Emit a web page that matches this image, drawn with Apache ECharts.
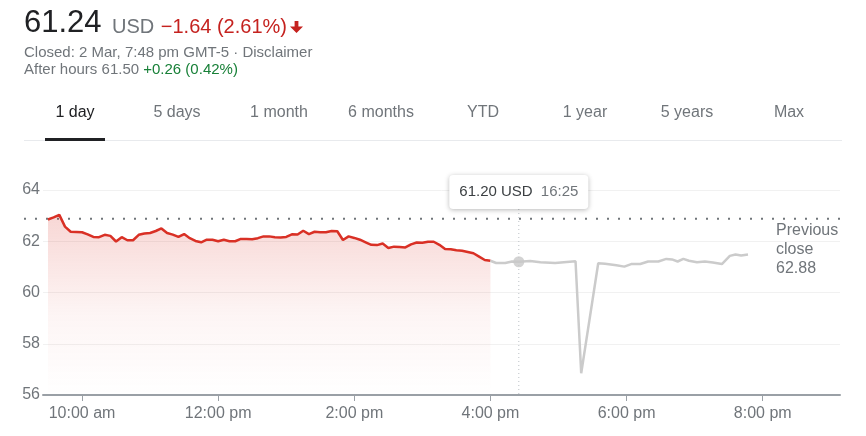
<!DOCTYPE html>
<html>
<head>
<meta charset="utf-8">
<script src="https://cdn.jsdelivr.net/npm/echarts@6/dist/echarts.min.js"></script>
<style>
  html, body { margin: 0; padding: 0; background: #fff; }
  body { width: 866px; height: 436px; overflow: hidden; position: relative;
         font-family: Arial, "Liberation Sans", sans-serif; }
  #chart { position: absolute; left: 0; top: 0; width: 866px; height: 436px; }
  .abs { position: absolute; white-space: nowrap; }
  .price { left: 24px; top: 6px; font-size: 31px; line-height: 31px; color: #202124; }
  .chgline { left: 112px; top: 16px; font-size: 20px; line-height: 20px; color: #70757a; }
  .down { color: #c5221f; margin-left: 1px; }
  .sub { left: 24px; font-size: 15px; line-height: 16px; color: #70757a; }
  .up { color: #188038; }
  .tab { top: 100px; height: 24px; line-height: 24px; font-size: 16px; color: #70757a;
         width: 102px; text-align: center; }
  .tab.sel { color: #202124; }
  .uline { left: 45px; top: 138px; width: 60px; height: 3px; background: #202124; }
  .sep { left: 24px; top: 140px; width: 818px; height: 1px; background: #e8eaed; }
</style>
</head>
<body>
<div id="chart"></div>

<div class="abs price">61.24</div>
<div class="abs chgline">USD <span class="down">−1.64 (2.61%)</span></div>
<svg class="abs" style="left:290px;top:21px" width="13" height="12" viewBox="0 0 13 12">
  <path fill="#c5221f" d="M4.6 0h3.8v5.6h4.6L6.5 12 0 5.6h4.6z"/>
</svg>
<div class="abs sub" style="top:44px">Closed: 2 Mar, 7:48 pm GMT-5 · Disclaimer</div>
<div class="abs sub" style="top:61px">After hours 61.50 <span class="up">+0.26 (0.42%)</span></div>

<div id="tabs"></div>
<div class="abs sep"></div>
<div class="abs uline"></div>

<script>
// ---------- data ----------
const tabLabels = ["1 day", "5 days", "1 month", "6 months", "YTD", "1 year", "5 years", "Max"];

const regularTimes = [
  "9:30","9:35","9:40","9:45","9:50","9:55",
  "10:00","10:05","10:10","10:15","10:20","10:25","10:30","10:35","10:40","10:45","10:50","10:55",
  "11:00","11:05","11:10","11:15","11:20","11:25","11:30","11:35","11:40","11:45","11:50","11:55",
  "12:00","12:05","12:10","12:15","12:20","12:25","12:30","12:35","12:40","12:45","12:50","12:55",
  "13:00","13:05","13:10","13:15","13:20","13:25","13:30","13:35","13:40","13:45","13:50","13:55",
  "14:00","14:05","14:10","14:15","14:20","14:25","14:30","14:35","14:40","14:45","14:50","14:55",
  "15:00","15:05","15:10","15:15","15:20","15:25","15:30","15:35","15:40","15:45","15:50","15:55",
  "16:00"
];
const regularPrices = [
  62.85, 62.93, 63.03, 62.57, 62.37, 62.36,
  62.35, 62.27, 62.17, 62.16, 62.25, 62.21, 61.99, 62.16, 62.04, 62.04, 62.25, 62.30,
  62.32, 62.40, 62.50, 62.32, 62.26, 62.17, 62.28, 62.12, 62.01, 61.96, 62.06, 62.06,
  62.00, 62.06, 62.00, 62.00, 62.09, 62.09, 62.08, 62.12, 62.19, 62.19, 62.16, 62.15,
  62.17, 62.27, 62.26, 62.41, 62.28, 62.37, 62.35, 62.35, 62.40, 62.39, 62.05, 62.19,
  62.13, 62.06, 61.96, 61.86, 61.85, 61.91, 61.74, 61.79, 61.78, 61.76, 61.88, 61.95,
  61.94, 61.98, 61.98, 61.86, 61.70, 61.69, 61.65, 61.63, 61.58, 61.53, 61.40, 61.27,
  61.24
];

const afterTimes = [
  "16:00","16:05","16:13","16:19","16:25","16:35","16:44","16:57","17:15","17:20",
  "17:35","17:41","17:51","17:58","18:04","18:12","18:19","18:28","18:35","18:40",
  "18:45","18:50","18:55","19:02","19:09","19:16","19:24","19:31","19:36","19:41","19:47"
];
const afterPrices = [
  61.24, 61.15, 61.15, 61.21, 61.20, 61.23, 61.18, 61.15, 61.22, 56.85,
  61.14, 61.12, 61.06, 61.01, 61.11, 61.11, 61.21, 61.21, 61.31, 61.29,
  61.21, 61.31, 61.24, 61.18, 61.21, 61.17, 61.11, 61.43, 61.48, 61.44, 61.48
];

const previousClose = 62.88;
const hoverTime = "16:25";
const hoverPrice = 61.20;

const xTickHours = [10, 12, 14, 16, 18, 20];
const xTickLabels = ["10:00 am", "12:00 pm", "2:00 pm", "4:00 pm", "6:00 pm", "8:00 pm"];
const yMin = 56, yMax = 64, yStep = 2;
const xMin = 9.427, xMax = 21.135;

// ---------- helpers ----------
function toHours(t) { const p = t.split(":"); return (+p[0]) + (+p[1]) / 60; }

// tabs
const tabsEl = document.getElementById("tabs");
tabLabels.forEach((lbl, i) => {
  const d = document.createElement("div");
  d.className = "abs tab" + (i === 0 ? " sel" : "");
  d.style.left = (24 + i * 102) + "px";
  d.textContent = lbl;
  tabsEl.appendChild(d);
});

// ---------- chart ----------
const chart = echarts.init(document.getElementById("chart"), null, { renderer: "canvas" });
const FONT = 'Arial, "Liberation Sans", sans-serif';

const option = {
  animation: false,
  grid: { left: 43, right: 26, top: 190, bottom: 41, containLabel: false },
  xAxis: {
    type: "value", min: xMin, max: xMax,
    splitLine: { show: false },
    axisLine: { show: true, onZero: false, lineStyle: { color: "#9aa0a6", width: 2 } },
    axisTick: { show: true, customValues: xTickHours, length: 6, lineStyle: { color: "#9aa0a6", width: 1 } },
    axisLabel: {
      show: true, customValues: xTickHours, margin: 11, fontSize: 16, color: "#70757a", fontFamily: FONT,
      formatter: v => { const i = xTickHours.indexOf(Math.round(v)); return i >= 0 ? xTickLabels[i] : ""; }
    }
  },
  yAxis: {
    type: "value", min: yMin, max: yMax, interval: yStep,
    axisLine: { show: false }, axisTick: { show: false },
    axisLabel: { margin: 3, fontSize: 16, color: "#70757a", fontFamily: FONT },
    splitLine: { show: true, lineStyle: { color: "#f1f1f1", width: 1 } }
  },
  series: [
    {
      type: "line", name: "regular", symbol: "none", smooth: false, z: 3,
      data: regularTimes.map((t, i) => [toHours(t), regularPrices[i]]),
      lineStyle: { color: "#d93025", width: 2.5 },
      areaStyle: {
        origin: "start",
        color: new echarts.graphic.LinearGradient(0, 0, 0, 1, [
          { offset: 0, color: "rgba(217,48,37,0.28)" },
          { offset: 0.55, color: "rgba(217,48,37,0.07)" },
          { offset: 1, color: "rgba(217,48,37,0.0)" }
        ])
      }
    },
    {
      type: "line", name: "after", symbol: "none", smooth: false, z: 3,
      data: afterTimes.map((t, i) => [toHours(t), afterPrices[i]]),
      lineStyle: { color: "#cbcbcb", width: 2.5 }
    },
    {
      type: "scatter", name: "hover", z: 5, symbolSize: 11,
      data: [[toHours(hoverTime), hoverPrice]],
      itemStyle: { color: "#c8c8c8" }
    }
  ]
};
chart.setOption(option);

// annotations placed through the chart's own scales
const hp = chart.convertToPixel({ gridIndex: 0 }, [toHours(hoverTime), hoverPrice]);
const pcY = chart.convertToPixel({ yAxisIndex: 0 }, previousClose);
const rightX = chart.convertToPixel({ xAxisIndex: 0 }, xMax);
const bottomY = chart.convertToPixel({ yAxisIndex: 0 }, yMin);
const boxW = 139, boxH = 34, boxTop = 175;

chart.setOption({
  graphic: [
    { type: "line", z: 1, silent: true,
      shape: { x1: 24, y1: pcY, x2: rightX, y2: pcY },
      style: { stroke: "#70757a", lineWidth: 2, lineDash: [2, 9] } },
    { type: "line", z: 2, silent: true,
      shape: { x1: hp[0], y1: boxTop + boxH, x2: hp[0], y2: bottomY },
      style: { stroke: "#bdc1c6", lineWidth: 1, lineDash: [1, 3] } },
    { type: "rect", z: 10, silent: true,
      shape: { x: hp[0] - boxW / 2, y: boxTop, width: boxW, height: boxH, r: 4 },
      style: { fill: "#ffffff", shadowBlur: 5, shadowColor: "rgba(0,0,0,0.28)", shadowOffsetY: 1 } },
    { type: "text", z: 11, silent: true,
      x: hp[0] - boxW / 2 + 10, y: boxTop + boxH / 2,
      style: { text: hoverPrice.toFixed(2) + " USD", fontSize: 15, fontFamily: FONT, fill: "#3c4043", verticalAlign: "middle" } },
    { type: "text", z: 11, silent: true,
      x: hp[0] + 22, y: boxTop + boxH / 2,
      style: { text: hoverTime, fontSize: 15, fontFamily: FONT, fill: "#70757a", verticalAlign: "middle" } },
    { type: "text", z: 11, silent: true,
      x: 776, y: 221,
      style: { text: "Previous\nclose\n" + previousClose.toFixed(2), fontSize: 16, lineHeight: 19, fontFamily: FONT, fill: "#70757a", verticalAlign: "top" } }
  ]
});
</script>
</body>
</html>
